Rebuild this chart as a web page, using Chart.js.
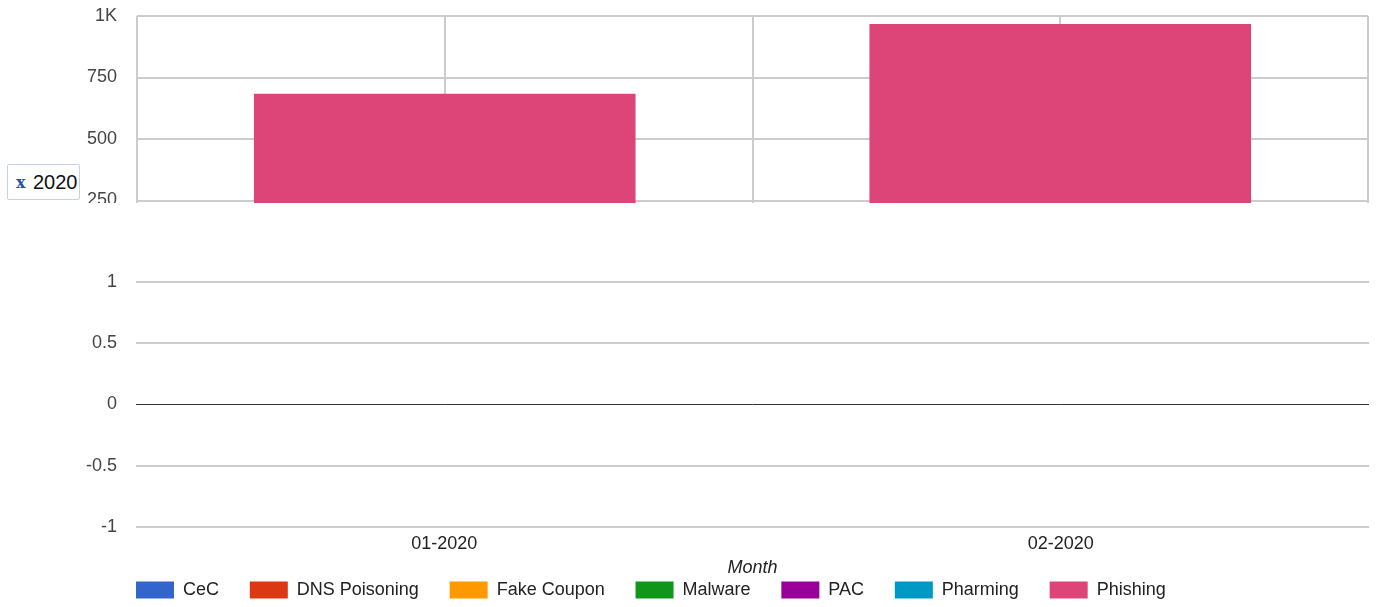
<!DOCTYPE html>
<html>
<head>
<meta charset="utf-8">
<script src="https://cdn.jsdelivr.net/npm/chart.js@4/dist/chart.umd.min.js"></script>
<style>
  html, body { margin: 0; padding: 0; background: #fff; overflow: hidden; }
  body { width: 1377px; height: 607px; position: relative; font-family: "Liberation Sans", Arial, sans-serif; }
  #topClip { position: absolute; left: 0; top: 0; width: 1377px; height: 203px; overflow: hidden; }
  #topWrap { position: absolute; left: 0; top: 0; width: 1377px; height: 292px; }
  #botWrap { position: absolute; left: 0; top: 203px; width: 1377px; height: 404px; }
  #filter { position: absolute; left: 7px; top: 164px; width: 73px; height: 36px; border: 1px solid #c3d1ea; border-radius: 2px; background: #fff; box-sizing: border-box; }
  #filter .x { position: absolute; left: 8px; top: 8px; font-family: "DejaVu Serif", "Liberation Serif", serif; font-weight: bold; font-size: 16px; color: #2a4fb0; }
  #filter .t { position: absolute; left: 25px; top: 6px; font-size: 20px; color: #111; }
</style>
</head>
<body>
<div id="topClip"><div id="topWrap"><canvas id="topChart"></canvas></div></div>
<div id="botWrap"><canvas id="botChart"></canvas></div>
<div id="filter"><span class="x">x</span><span class="t">2020</span></div>
<script>
// ---- data ----
const months = ["01-2020", "02-2020"];
const seriesNames = ["CeC", "DNS Poisoning", "Fake Coupon", "Malware", "PAC", "Pharming", "Phishing"];
const seriesColors = ["#3366cc", "#dc3912", "#ff9900", "#109618", "#990099", "#0099c6", "#dd4477"];
const cecValues = [null, null];
const dnsValues = [null, null];
const couponValues = [null, null];
const malwareValues = [null, null];
const pacValues = [null, null];
const pharmingValues = [null, null];
const phishingValues = [684, 967];
const topTicks = [0, 250, 500, 750, 1000];
const bottomTicks = [-1, -0.5, 0, 0.5, 1];
const axisTitle = "Month";

const topSeries = [cecValues, dnsValues, couponValues, malwareValues, pacValues, pharmingValues, phishingValues];

const GRID = "#cccccc";
const FONT = "'Liberation Sans', Arial, sans-serif";

// ---- top chart ----
new Chart(document.getElementById("topChart"), {
  type: "bar",
  data: {
    labels: months,
    datasets: seriesNames.map((n, i) => ({
      label: n,
      data: topSeries[i],
      backgroundColor: seriesColors[i],
      borderWidth: 0,
      categoryPercentage: 1,
      barPercentage: 0.62
    }))
  },
  options: {
    responsive: true,
    maintainAspectRatio: false,
    animation: false,
    events: [],
    layout: { padding: { top: 16, right: 9, bottom: 30, left: 0 } },
    plugins: { legend: { display: false }, tooltip: { enabled: false } },
    scales: {
      x: {
        stacked: true,
        offset: true,
        grid: { offset: true, color: GRID, lineWidth: 2, drawTicks: false },
        border: { display: false },
        ticks: { display: false }
      },
      x2: {
        type: "category",
        labels: months,
        position: "bottom",
        offset: true,
        grid: { offset: false, color: GRID, lineWidth: 2, drawTicks: false },
        border: { display: false },
        ticks: { display: false }
      },
      y: {
        stacked: true,
        min: topTicks[0],
        max: topTicks[topTicks.length - 1],
        afterBuildTicks: (s) => { s.ticks = topTicks.map(v => ({ value: v })); },
        afterFit: (s) => { s.width = 137; s.paddingTop = 0; s.paddingBottom = 0; },
        grid: { color: GRID, lineWidth: 2, drawTicks: false },
        border: { display: false },
        ticks: {
          padding: 20,
          color: "#444",
          font: { family: FONT, size: 18 },
          callback: (v) => v >= 1000 ? (v / 1000) + "K" : String(v)
        }
      }
    }
  }
});

// ---- bottom chart ----
const legendShift = {
  id: "legendShift",
  afterLayout(chart) {
    const lg = chart.legend;
    if (!lg) return;
    const pad = lg.options.labels.padding;
    const w = lg.width;
    lg.left = 136 - pad;
    lg.right = lg.left + w;
    lg.top = 378 - pad;
    lg.bottom = lg.top + pad + 40;
    lg.height = lg.bottom - lg.top;
  }
};

new Chart(document.getElementById("botChart"), {
  type: "bar",
  data: {
    labels: months,
    datasets: seriesNames.map((n, i) => ({
      label: n,
      data: [],
      backgroundColor: seriesColors[i],
      borderWidth: 0
    }))
  },
  plugins: [legendShift],
  options: {
    responsive: true,
    maintainAspectRatio: false,
    animation: false,
    events: [],
    layout: { padding: { top: 79, right: 8, bottom: 0, left: 0 } },
    plugins: {
      tooltip: { enabled: false },
      legend: {
        position: "bottom",
        align: "start",
        maxHeight: 28,
        labels: {
          boxWidth: 38,
          boxHeight: 17,
          padding: 30.8,
          color: "#222",
          font: { family: FONT, size: 18 }
        }
      }
    },
    scales: {
      x: {
        offset: true,
        grid: { display: false, drawTicks: false },
        border: { display: false },
        ticks: { padding: 8, color: "#222", font: { family: FONT, size: 18, lineHeight: 1 }, maxRotation: 0 },
        title: {
          display: true,
          text: axisTitle,
          color: "#222",
          font: { family: FONT, size: 18, style: "italic", lineHeight: 1 },
          padding: { top: -2, bottom: 2 }
        }
      },
      y: {
        min: bottomTicks[0],
        max: bottomTicks[bottomTicks.length - 1],
        afterBuildTicks: (s) => { s.ticks = bottomTicks.map(v => ({ value: v })); },
        afterFit: (s) => { s.width = 136; },
        grid: {
          drawTicks: false,
          color: (c) => (c.tick && c.tick.value === 0) ? "#333333" : GRID,
          lineWidth: (c) => (c.tick && c.tick.value === 0) ? 1 : 2
        },
        border: { display: false },
        ticks: {
          padding: 19,
          color: "#444",
          font: { family: FONT, size: 18 },
          callback: (v) => String(v)
        }
      }
    }
  }
});
</script>
</body>
</html>
